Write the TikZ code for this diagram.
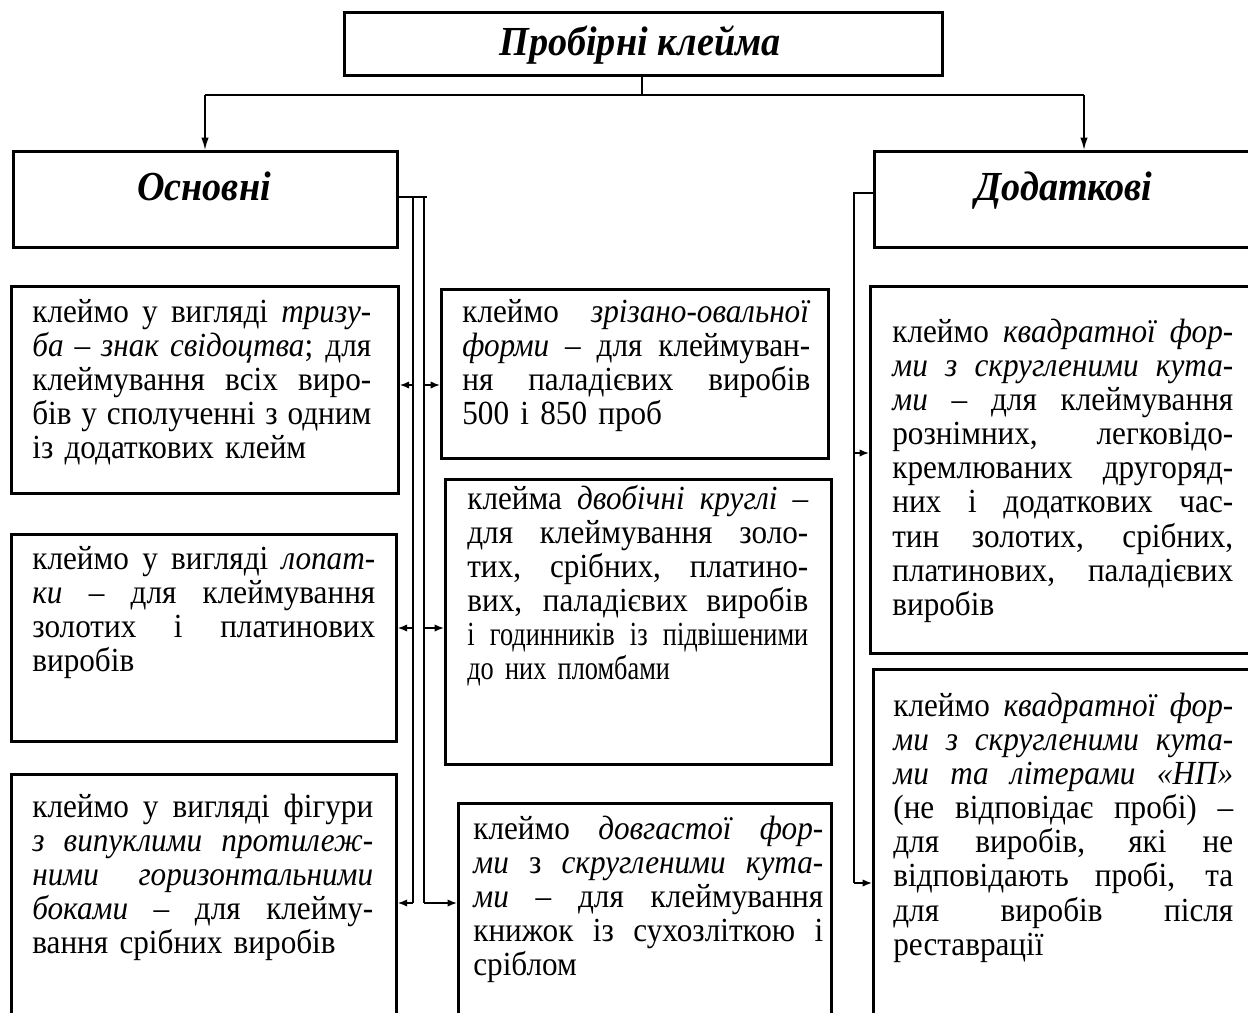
\documentclass[tikz,border=0pt]{standalone}
\usepackage{fontspec}
\setmainfont{Liberation Serif}[FakeStretch=0.925]
\newfontfamily\narrowFont{Liberation Serif}[FakeStretch=0.78]
\usetikzlibrary{arrows.meta, positioning}

\newcommand{\fullLine}[1]{\makebox[\linewidth][s]{\spaceskip=0.25em plus 1fil\relax #1}\\}

\begin{document}
\begin{tikzpicture}[x=0.02cm, y=-0.02cm, >={Latex[length=0.19cm, width=0.15cm]}]
      \tikzstyle{boxNode} = [rectangle, draw=black, line width=1.6pt, anchor=north west, inner sep=0pt]
      \tikzstyle{textNode} = [anchor=base west, inner sep=0pt, align=left, font=\fontsize{19.2}{19.45}\selectfont]
      \tikzstyle{headNode} = [anchor=base, inner sep=0pt, font=\fontsize{23.5}{26}\selectfont\bfseries\itshape]
      \tikzstyle{myLine} = [draw=black, line width=0.9pt]
      \tikzstyle{myArrow} = [myLine, ->]
      \tikzstyle{bigArrow} = [myLine, -{Latex[length=0.25cm, width=0.15cm]}]

      \useasboundingbox (0,0) rectangle (1248,1012);

      % Рамки
      \node [boxNode, minimum width=11.96cm, minimum height=1.26cm] (title) at (343,11) {};
      \node [boxNode, minimum width=7.68cm, minimum height=1.92cm] (osn) at (12,150) {};
      \node [boxNode, minimum width=7.78cm, minimum height=1.92cm] (dod) at (873,150) {};
      \node [boxNode, minimum width=7.74cm, minimum height=4.14cm] (l1) at (10,285) {};
      \node [boxNode, minimum width=7.70cm, minimum height=4.14cm] (l2) at (10,533) {};
      \node [boxNode, minimum width=7.70cm, minimum height=5.14cm] (l3) at (10,773) {};
      \node [boxNode, minimum width=7.74cm, minimum height=3.38cm] (m1) at (440,288) {};
      \node [boxNode, minimum width=7.72cm, minimum height=5.70cm] (m2) at (444,478) {};
      \node [boxNode, minimum width=7.46cm, minimum height=4.56cm] (m3) at (457,802) {};
      \node [boxNode, minimum width=7.86cm, minimum height=7.34cm] (r1) at (869,285) {};
      \node [boxNode, minimum width=7.80cm, minimum height=7.24cm] (r2) at (872,668) {};

      % Заголовки
      \node [headNode] (titleText) at (640,55) {Пробірні клейма};
      \node [headNode] (osnText) at (204,200) {Основні};
      \node [headNode] (dodText) at (1064,200) {Додаткові};

      % Тексти
      \node [textNode, text width=6.78cm] (l1Text) at (32,322) {%
        \fullLine{клеймо у вигляді \textit{тризу-}}
        \fullLine{\textit{ба – знак свідоцтва}; для}
        \fullLine{клеймування всіх виро-}
        \fullLine{бів у сполученні з одним}
        із додаткових клейм};
      \node [textNode, text width=6.86cm] (l2Text) at (32,569) {%
        \fullLine{клеймо у вигляді \textit{лопат-}}
        \fullLine{\textit{ки} – для клеймування}
        \fullLine{золотих і платинових}
        виробів};
      \node [textNode, text width=6.82cm] (l3Text) at (32,817) {%
        \fullLine{клеймо у вигляді фігури}
        \fullLine{\textit{з випуклими протилеж-}}
        \fullLine{\textit{ними горизонтальними}}
        \fullLine{\textit{боками} – для клейму-}
        вання срібних виробів};
      \node [textNode, text width=6.96cm] (m1Text) at (462,322) {%
        \fullLine{клеймо \textit{зрізано-овальної}}
        \fullLine{\textit{форми} – для клеймуван-}
        \fullLine{ня паладієвих виробів}
        500 і 850 проб};
      \node [textNode, text width=6.82cm] (m2Text) at (467,509) {%
        \fullLine{клейма \textit{двобічні круглі} –}
        \fullLine{для клеймування золо-}
        \fullLine{тих, срібних, платино-}
        \fullLine{вих, паладієвих виробів}
        \fullLine{\narrowFont і годинників із підвішеними}
        {\narrowFont до них пломбами}};
      \node [textNode, text width=7.00cm] (m3Text) at (473,839) {%
        \fullLine{клеймо \textit{довгастої фор-}}
        \fullLine{\textit{ми} з \textit{скругленими кута-}}
        \fullLine{\textit{ми} – для клеймування}
        \fullLine{книжок із сухозліткою і}
        сріблом};
      \node [textNode, text width=6.82cm] (r1Text) at (892,342) {%
        \fullLine{клеймо \textit{квадратної фор-}}
        \fullLine{\textit{ми з скругленими кута-}}
        \fullLine{\textit{ми} – для клеймування}
        \fullLine{рознімних, легковідо-}
        \fullLine{кремлюваних другоряд-}
        \fullLine{них і додаткових час-}
        \fullLine{тин золотих, срібних,}
        \fullLine{платинових, паладієвих}
        виробів};
      \node [textNode, text width=6.80cm] (r2Text) at (893,716) {%
        \fullLine{клеймо \textit{квадратної фор-}}
        \fullLine{\textit{ми з скругленими кута-}}
        \fullLine{\textit{ми та літерами «НП»}}
        \fullLine{(не відповідає пробі) –}
        \fullLine{для виробів, які не}
        \fullLine{відповідають пробі, та}
        \fullLine{для виробів після}
        реставрації};

      % Точки зламу
      \coordinate (topJoint) at (642,95);
      \coordinate (leftTurn) at (205,95);
      \coordinate (rightTurn) at (1084,95);
      \coordinate (spineEnd) at (427,197);
      \coordinate (spineIn) at (413,197);
      \coordinate (spineOut) at (424,197);
      \coordinate (inA) at (413,385);
      \coordinate (inB) at (413,628);
      \coordinate (inC) at (413,903);
      \coordinate (outA) at (424,385);
      \coordinate (outB) at (424,628);
      \coordinate (outC) at (424,903);
      \coordinate (rSpineTop) at (854,193);
      \coordinate (rA) at (854,453);
      \coordinate (rB) at (854,883);

      % Зв'язки
      \draw [myLine] (topJoint |- title.south) -- (topJoint);
      \draw [myLine] (leftTurn) -- (rightTurn);
      \draw [bigArrow] (leftTurn) -- (leftTurn |- osn.north);
      \draw [bigArrow] (rightTurn) -- (rightTurn |- dod.north);

      \draw [myLine] (spineIn -| osn.east) -- (spineEnd);
      \draw [myLine] (spineIn) -- (inC);
      \draw [myLine] (spineOut) -- (outC);
      \draw [myArrow] (inA) -- (inA -| l1.east);
      \draw [myArrow] (inB) -- (inB -| l2.east);
      \draw [myArrow] (inC) -- (inC -| l3.east);
      \draw [myArrow] (outA) -- (outA -| m1.west);
      \draw [myArrow] (outB) -- (outB -| m2.west);
      \draw [myArrow] (outC) -- (outC -| m3.west);

      \draw [myLine] (rSpineTop -| dod.west) -- (rSpineTop) -- (rB);
      \draw [myArrow] (rA) -- (rA -| r1.west);
      \draw [myArrow] (rB) -- (rB -| r2.west);

    \end{tikzpicture}
\end{document}
